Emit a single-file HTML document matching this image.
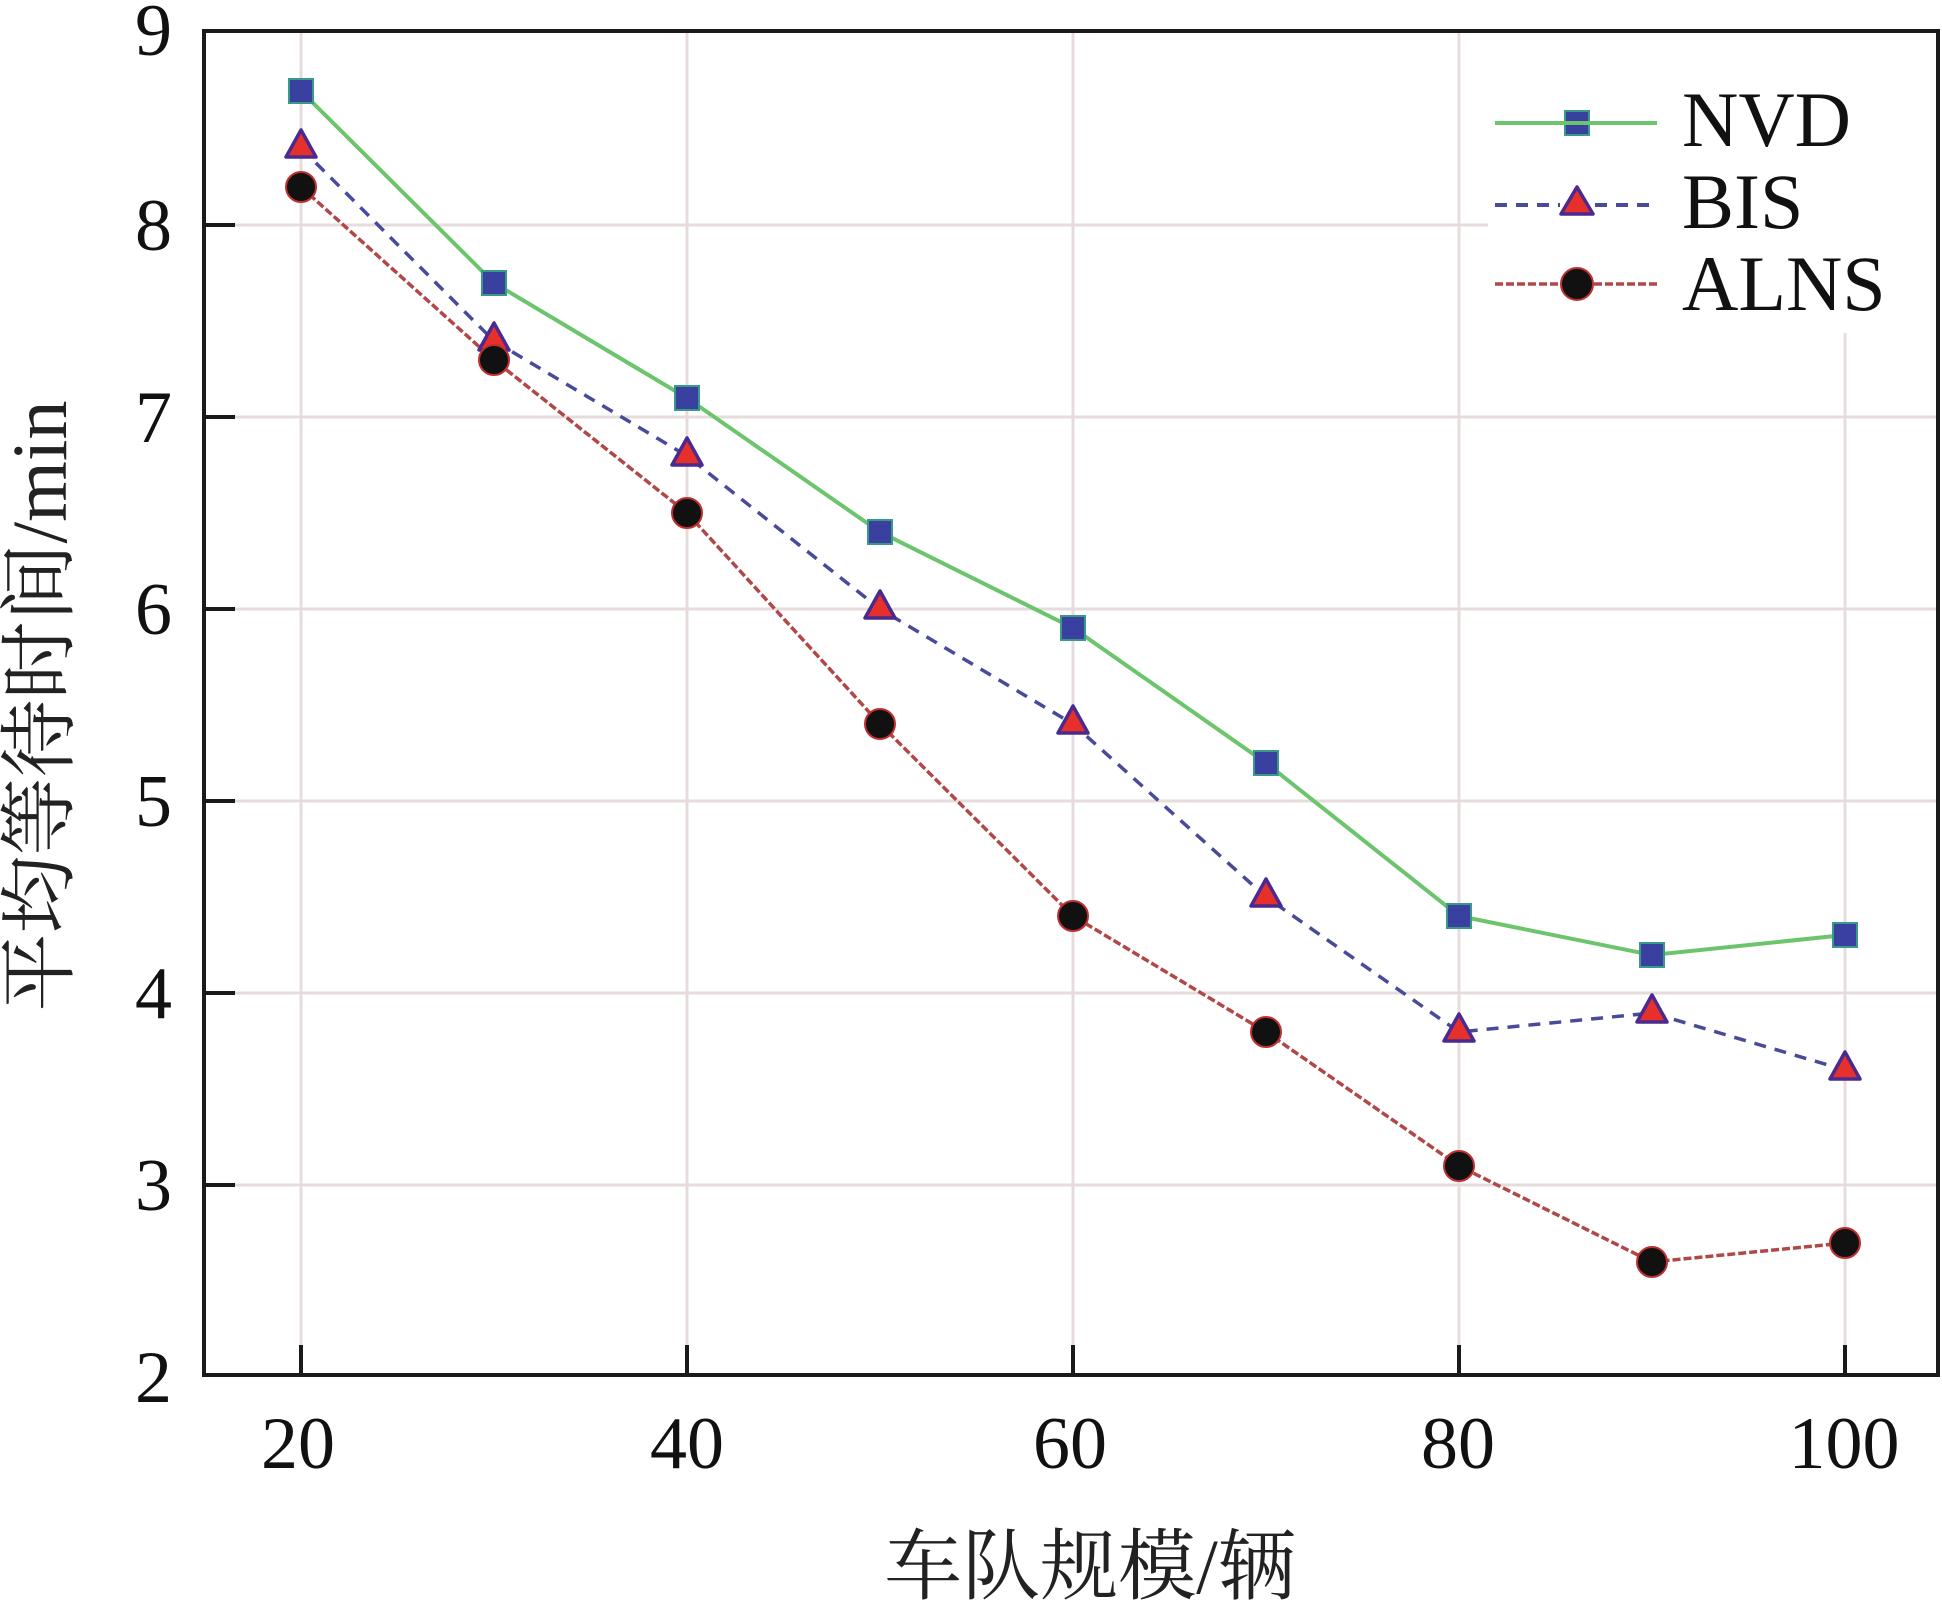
<!DOCTYPE html>
<html><head><meta charset="utf-8"><style>html,body{margin:0;padding:0;background:#fff}svg{display:block}text{font-family:"Liberation Serif","Noto Serif CJK SC",serif}</style></head>
<body>
<svg width="1942" height="1603" viewBox="0 0 1942 1603" xmlns="http://www.w3.org/2000/svg">
<g stroke="#e6dcdc" stroke-width="3">
<line x1="204" y1="225" x2="1938" y2="225"/><line x1="204" y1="417" x2="1938" y2="417"/><line x1="204" y1="609" x2="1938" y2="609"/><line x1="204" y1="801" x2="1938" y2="801"/><line x1="204" y1="993" x2="1938" y2="993"/><line x1="204" y1="1185" x2="1938" y2="1185"/>
<line x1="301" y1="31" x2="301" y2="1375"/><line x1="687" y1="31" x2="687" y2="1375"/><line x1="1073" y1="31" x2="1073" y2="1375"/><line x1="1459" y1="31" x2="1459" y2="1375"/><line x1="1845" y1="31" x2="1845" y2="1375"/>
</g>
<rect x="1488" y="33" width="448" height="300" fill="#fff"/>
<polyline fill="none" stroke="#6cc46c" stroke-width="4" points="301,91 494,283 687,398 880,532 1073,628 1266,763 1459,916 1652,955 1845,935"/>
<polyline fill="none" stroke="#4a4a9a" stroke-width="3.5" stroke-dasharray="12,9" points="301,148 494,341 687,456 880,609 1073,724 1266,897 1459,1032 1652,1013 1845,1070"/>
<polyline fill="none" stroke="#b04848" stroke-width="3.5" stroke-dasharray="8,3" points="301,187 494,360 687,513 880,724 1073,916 1266,1032 1459,1166 1652,1262 1845,1243"/>
<g fill="#3a40a0" stroke="#3a9a8a" stroke-width="2">
<rect x="289" y="79" width="24" height="24"/><rect x="482" y="271" width="24" height="24"/><rect x="675" y="386" width="24" height="24"/><rect x="868" y="520" width="24" height="24"/><rect x="1061" y="616" width="24" height="24"/><rect x="1254" y="751" width="24" height="24"/><rect x="1447" y="904" width="24" height="24"/><rect x="1640" y="943" width="24" height="24"/><rect x="1833" y="923" width="24" height="24"/>
<rect x="1565" y="111" width="24" height="24"/>
</g>
<g fill="#e8302a" stroke="#4a2a90" stroke-width="3.5" stroke-linejoin="round">
<polygon points="301,130 286,157 316,157"/><polygon points="494,323 479,350 509,350"/><polygon points="687,438 672,465 702,465"/><polygon points="880,591 865,618 895,618"/><polygon points="1073,706 1058,733 1088,733"/><polygon points="1266,879 1251,906 1281,906"/><polygon points="1459,1014 1444,1041 1474,1041"/><polygon points="1652,995 1637,1022 1667,1022"/><polygon points="1845,1052 1830,1079 1860,1079"/>
<polygon points="1577,187 1561,214 1593,214"/>
</g>
<g fill="#111" stroke="#c03030" stroke-width="2">
<circle cx="301" cy="187" r="15"/><circle cx="494" cy="360" r="15"/><circle cx="687" cy="513" r="15"/><circle cx="880" cy="724" r="15"/><circle cx="1073" cy="916" r="15"/><circle cx="1266" cy="1032" r="15"/><circle cx="1459" cy="1166" r="15"/><circle cx="1652" cy="1262" r="15"/><circle cx="1845" cy="1243" r="15"/>
<circle cx="1577" cy="284" r="16"/>
</g>
<line x1="1495" y1="123" x2="1657" y2="123" stroke="#6cc46c" stroke-width="4"/>
<line x1="1495" y1="205" x2="1560" y2="205" stroke="#4a4a9a" stroke-width="4" stroke-dasharray="12,9"/><line x1="1595" y1="205" x2="1657" y2="205" stroke="#4a4a9a" stroke-width="4" stroke-dasharray="12,9"/>
<line x1="1495" y1="284" x2="1560" y2="284" stroke="#b04848" stroke-width="3.5" stroke-dasharray="8,3"/><line x1="1594" y1="284" x2="1657" y2="284" stroke="#b04848" stroke-width="3.5" stroke-dasharray="8,3"/>
<g font-size="78" fill="#111"><text x="1682" y="146">NVD</text><text x="1682" y="228">BIS</text><text x="1682" y="310">ALNS</text></g>
<rect x="204" y="31" width="1734" height="1344" fill="none" stroke="#1a1a1a" stroke-width="4"/>
<g stroke="#1a1a1a" stroke-width="4">
<line x1="204" y1="225" x2="235" y2="225"/><line x1="204" y1="417" x2="235" y2="417"/><line x1="204" y1="609" x2="235" y2="609"/><line x1="204" y1="801" x2="235" y2="801"/><line x1="204" y1="993" x2="235" y2="993"/><line x1="204" y1="1185" x2="235" y2="1185"/>
<line x1="301" y1="1375" x2="301" y2="1345"/><line x1="687" y1="1375" x2="687" y2="1345"/><line x1="1073" y1="1375" x2="1073" y2="1345"/><line x1="1459" y1="1375" x2="1459" y2="1345"/><line x1="1845" y1="1375" x2="1845" y2="1345"/>
</g>
<g font-size="74" fill="#111" text-anchor="end">
<text x="172" y="55">9</text><text x="172" y="250">8</text><text x="172" y="442">7</text><text x="172" y="634">6</text><text x="172" y="826">5</text><text x="172" y="1018">4</text><text x="172" y="1210">3</text><text x="172" y="1402">2</text>
</g>
<g font-size="74" fill="#111" text-anchor="middle">
<text x="298" y="1468">20</text><text x="687" y="1468">40</text><text x="1070" y="1468">60</text><text x="1458" y="1468">80</text><text x="1844" y="1468">100</text>
</g>
<text x="1090" y="1593" font-size="78" fill="#222" text-anchor="middle">车队规模/辆</text>
<text transform="translate(66,706) rotate(-90)" font-size="78" fill="#222" text-anchor="middle">平均等待时间/min</text>
</svg>
</body></html>
